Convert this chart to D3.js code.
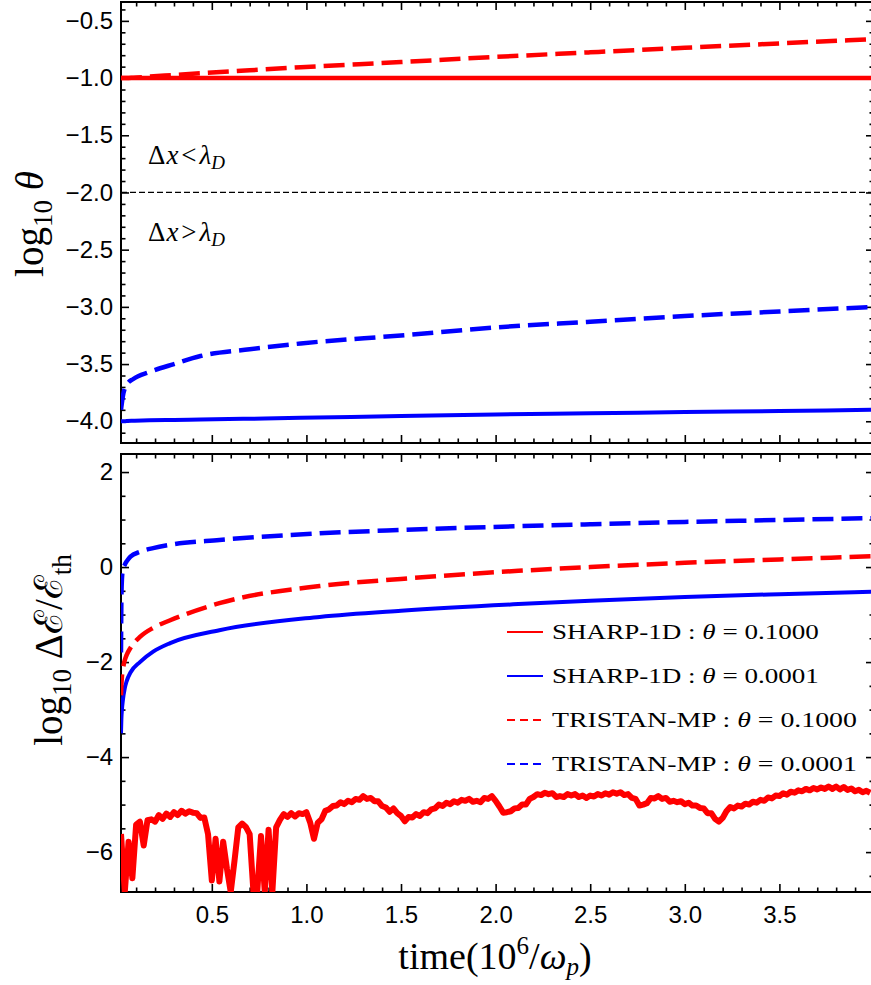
<!DOCTYPE html>
<html>
<head>
<meta charset="utf-8">
<script src="https://cdn.jsdelivr.net/npm/d3@7"></script>
<style>
  html, body { margin: 0; padding: 0; background: #fff; }
  svg { display: block; }
</style>
</head>
<body>
<svg id="chart" width="871" height="985"></svg>
<script>
// ---- data -------------------------------------------------------------
// time in units of 10^6 / omega_p
const thetaTime = [0.02, 0.03, 0.05, 0.085, 0.17, 0.3, 0.44, 0.7, 0.97, 1.5, 2.0, 2.5, 3.0, 3.5, 4.0];
// log10 theta, top panel
const thetaSharpHot   = [-1.0, -1.0, -1.0, -1.0, -1.0, -1.0, -1.0, -1.0, -1.0, -1.0, -1.0, -1.0, -1.0, -1.0, -1.0];
const thetaSharpCold  = [-4.0, -4.0, -3.998, -3.996, -3.992, -3.988, -3.985, -3.978, -3.97, -3.955, -3.94, -3.93, -3.92, -3.91, -3.90];
const thetaTristanHot = [-1.0, -1.0, -1.0, -0.997, -0.987, -0.973, -0.958, -0.932, -0.905, -0.86, -0.815, -0.775, -0.735, -0.697, -0.66];
const thetaTristanCold= [-3.9, -3.78, -3.68, -3.63, -3.57, -3.5, -3.43, -3.37, -3.32, -3.25, -3.18, -3.13, -3.08, -3.04, -3.0];

// log10 of energy error, bottom panel
const energyTime = [0.02, 0.022, 0.025, 0.03, 0.04, 0.05, 0.07, 0.12, 0.19, 0.28, 0.54, 1.07, 1.5, 2.12, 2.5, 3.0, 3.5, 4.0];
const energySharpCold   = [-3.5, -3.2, -3.0, -2.8, -2.55, -2.4, -2.22, -2.0, -1.78, -1.6, -1.33, -1.05, -0.92, -0.78, -0.71, -0.63, -0.57, -0.52];
const energyTristanHot  = [-2.7, -2.5, -2.3, -2.15, -1.96, -1.85, -1.7, -1.47, -1.28, -1.12, -0.76, -0.40, -0.25, -0.08, 0.0, 0.09, 0.16, 0.23];
const energyTristanCold = [-1.8, -0.7, -0.25, -0.05, 0.05, 0.12, 0.22, 0.32, 0.40, 0.47, 0.57, 0.71, 0.78, 0.86, 0.90, 0.95, 0.99, 1.03];
// SHARP-1D, theta = 0.1: sampled every 0.02 starting at t = 0.02
const noiseStart = 0.02, noiseStep = 0.02;
const energySharpHot = [
  -5.62,-6.84,-5.78,-6.55,-5.42,-5.36,-5.86,-5.33,-5.31,-5.36,
  -5.22,-5.30,-5.19,-5.26,-5.16,-5.22,-5.13,-5.19,-5.14,-5.17,
  -5.18,-5.28,-5.27,-5.62,-6.60,-5.72,-6.62,-5.78,-6.35,-6.84,
  -6.18,-5.48,-5.40,-5.47,-5.62,-6.84,-6.84,-5.66,-6.84,-5.53,
  -6.84,-5.48,-5.32,-5.20,-5.26,-5.18,-5.25,-5.18,-5.20,-5.16,
  -5.38,-5.72,-5.38,-5.31,-5.13,-5.10,-5.03,-5.02,-4.95,-4.99,
  -4.92,-4.95,-4.88,-4.90,-4.82,-4.88,-4.86,-4.93,-4.93,-5.03,
  -5.06,-5.15,-5.08,-5.18,-5.24,-5.35,-5.26,-5.27,-5.20,-5.24,
  -5.16,-5.18,-5.10,-5.08,-5.00,-5.03,-4.96,-4.99,-4.93,-4.96,
  -4.90,-4.92,-4.88,-4.94,-4.92,-4.95,-4.86,-4.88,-4.82,-4.92,
  -5.04,-5.17,-5.16,-5.14,-5.08,-5.07,-5.00,-5.00,-4.88,-4.84,
  -4.78,-4.80,-4.75,-4.78,-4.76,-4.84,-4.82,-4.84,-4.78,-4.81,
  -4.78,-4.84,-4.81,-4.86,-4.81,-4.83,-4.78,-4.81,-4.76,-4.79,
  -4.74,-4.77,-4.74,-4.80,-4.78,-4.86,-4.88,-5.02,-5.00,-4.97,
  -4.86,-4.87,-4.82,-4.88,-4.86,-4.94,-4.92,-4.95,-4.93,-4.99,
  -4.96,-5.02,-5.02,-5.07,-5.08,-5.18,-5.18,-5.30,-5.36,-5.28,
  -5.14,-5.05,-5.08,-5.02,-5.04,-4.98,-5.00,-4.94,-4.96,-4.90,
  -4.92,-4.85,-4.87,-4.81,-4.82,-4.76,-4.79,-4.73,-4.75,-4.70,
  -4.72,-4.67,-4.70,-4.65,-4.68,-4.64,-4.67,-4.62,-4.67,-4.62,
  -4.68,-4.63,-4.69,-4.66,-4.72,-4.69,-4.74,-4.71,-4.75
];

// tick values
const xTicks = [0.5, 1.0, 1.5, 2.0, 2.5, 3.0, 3.5];
const thetaTicks = [-4.0, -3.5, -3.0, -2.5, -2.0, -1.5, -1.0, -0.5];
const energyTicks = [-6, -4, -2, 0, 2];

const legendItems = [
  {code: "SHARP-1D",   theta: "0.1000", color: "#ff0000", dashed: false},
  {code: "SHARP-1D",   theta: "0.0001", color: "#0000ff", dashed: false},
  {code: "TRISTAN-MP", theta: "0.1000", color: "#ff0000", dashed: true},
  {code: "TRISTAN-MP", theta: "0.0001", color: "#0000ff", dashed: true}
];

// ---- layout -------------------------------------------------------------
const RED = "#ff0000", BLUE = "#0000ff";
const left = 121, right = 874;
const svg = d3.select("#chart");
svg.append("rect").attr("width", 871).attr("height", 985).attr("fill", "#fff");

const x = d3.scaleLinear().domain([0.02, 4.0]).range([left, right]);
const yTop = d3.scaleLinear().domain([-4.19, -0.335]).range([443, 2]);
const yBot = d3.scaleLinear().domain([-6.84, 2.38]).range([892, 454]);

const sansFont = "'Liberation Sans', Arial, Helvetica, sans-serif";
const serifFont = "'Liberation Serif', 'Times New Roman', serif";

const xMinor = d3.range(0.1, 4.0, 0.1).filter(v => Math.abs(v * 2 - Math.round(v * 2)) > 1e-6);

function drawFrame(y, yMajor, yMinor, yFmt, showX, clipId) {
  const g = svg.append("g");
  const [y0, y1] = y.range();
  const setFont = sel => sel.attr("font-size", 24).attr("font-family", sansFont);

  // left
  g.append("g").attr("transform", `translate(${left},0)`)
    .call(d3.axisLeft(y).tickValues(yMajor).tickSize(-8).tickPadding(8).tickFormat(yFmt))
    .call(setFont);
  g.append("g").attr("transform", `translate(${left},0)`)
    .call(d3.axisLeft(y).tickValues(yMinor).tickSize(-4.5).tickFormat(""));
  // right
  g.append("g").attr("transform", `translate(${right},0)`)
    .call(d3.axisRight(y).tickValues(yMajor).tickSize(-8).tickFormat(""));
  g.append("g").attr("transform", `translate(${right},0)`)
    .call(d3.axisRight(y).tickValues(yMinor).tickSize(-4.5).tickFormat(""));
  // bottom
  g.append("g").attr("transform", `translate(0,${y0})`)
    .call(d3.axisBottom(x).tickValues(xTicks).tickSize(-8).tickPadding(14)
      .tickFormat(showX ? d3.format(".1f") : ""))
    .call(setFont);
  g.append("g").attr("transform", `translate(0,${y0})`)
    .call(d3.axisBottom(x).tickValues(xMinor).tickSize(-4.5).tickFormat(""));
  // top
  g.append("g").attr("transform", `translate(0,${y1})`)
    .call(d3.axisTop(x).tickValues(xTicks).tickSize(-8).tickFormat(""));
  g.append("g").attr("transform", `translate(0,${y1})`)
    .call(d3.axisTop(x).tickValues(xMinor).tickSize(-4.5).tickFormat(""));

  g.selectAll(".domain").remove();
  g.selectAll(".tick line").attr("stroke", "#000").attr("stroke-width", 1.6);
  g.selectAll(".tick text").attr("fill", "#000");

  g.append("rect")
    .attr("x", left).attr("y", y1).attr("width", right - left).attr("height", y0 - y1)
    .attr("fill", "none").attr("stroke", "#000").attr("stroke-width", 2);

  svg.append("clipPath").attr("id", clipId)
    .append("rect").attr("x", left).attr("y", y1).attr("width", right - left).attr("height", y0 - y1);
}

function drawSeries(y, times, values, color, dashed, clipId, width, curve) {
  const pts = values.map((v, i) => ({t: times[i], v}));
  const line = d3.line().x(d => x(d.t)).y(d => y(d.v)).curve(curve || d3.curveMonotoneX);
  svg.append("path")
    .datum(pts)
    .attr("clip-path", `url(#${clipId})`)
    .attr("d", line)
    .attr("fill", "none")
    .attr("stroke", color)
    .attr("stroke-width", width)
    .attr("stroke-linejoin", "round")
    .attr("stroke-dasharray", dashed ? "21,8" : null);
}

// ---- top panel: temperature ---------------------------------------------
const thetaMinor = d3.range(-41, -3, 1).map(v => v / 10).filter(v => Math.abs(v * 2 - Math.round(v * 2)) > 1e-6);
drawFrame(yTop, thetaTicks, thetaMinor, d3.format(".1f"), false, "clipTop");

// Debye-length boundary
svg.append("line")
  .attr("x1", left).attr("x2", right)
  .attr("y1", yTop(-2)).attr("y2", yTop(-2))
  .attr("stroke", "#000").attr("stroke-width", 1.3).attr("stroke-dasharray", "6,3");

drawSeries(yTop, thetaTime, thetaSharpHot, RED, false, "clipTop", 4.5);
drawSeries(yTop, thetaTime, thetaTristanHot, RED, true, "clipTop", 4.5);
drawSeries(yTop, thetaTime, thetaSharpCold, BLUE, false, "clipTop", 4);
drawSeries(yTop, thetaTime, thetaTristanCold, BLUE, true, "clipTop", 4.5);

function regimeLabel(yPos, rel) {
  const t = svg.append("text").attr("x", 148).attr("y", yPos)
    .attr("font-family", serifFont).attr("font-size", 27).attr("fill", "#000");
  t.append("tspan").text("Δ");
  t.append("tspan").attr("font-style", "italic").attr("dx", 1).text("x");
  t.append("tspan").attr("dx", 3).text(rel);
  t.append("tspan").attr("font-style", "italic").attr("dx", 3).text("λ");
  t.append("tspan").attr("font-style", "italic").attr("font-size", 19).attr("dy", 5).text("D");
}
regimeLabel(164, "<");
regimeLabel(241, ">");

// y label, top
{
  const t = svg.append("text")
    .attr("transform", `translate(43,224) rotate(-90)`)
    .attr("text-anchor", "middle")
    .attr("font-family", serifFont).attr("font-size", 39).attr("fill", "#000");
  t.append("tspan").text("log");
  t.append("tspan").attr("font-size", 27).attr("dy", 9).text("10");
  t.append("tspan").attr("dy", -9).text(" ");
  t.append("tspan").attr("font-style", "italic").text("θ");
}

// ---- bottom panel: energy error -----------------------------------------
const energyMinor = d3.range(-13, 5, 1).map(v => v / 2).filter(v => v % 2 !== 0);
drawFrame(yBot, energyTicks, energyMinor, d3.format("d"), true, "clipBot");

const noiseTime = energySharpHot.map((_, i) => noiseStart + noiseStep * i);
drawSeries(yBot, noiseTime, energySharpHot, RED, false, "clipBot", 6, d3.curveLinear);
drawSeries(yBot, energyTime, energySharpCold, BLUE, false, "clipBot", 4);
drawSeries(yBot, energyTime, energyTristanHot, RED, true, "clipBot", 4.5);
drawSeries(yBot, energyTime, energyTristanCold, BLUE, true, "clipBot", 4.5);

// legend: serif text widened horizontally to the wide math-font look
const legend = svg.append("g");
legendItems.forEach((d, i) => {
  const cy = 632 + i * 44;
  legend.append("line")
    .attr("x1", 507).attr("x2", 543).attr("y1", cy).attr("y2", cy)
    .attr("stroke", d.color).attr("stroke-width", 2)
    .attr("stroke-dasharray", d.dashed ? "8,5" : null);
  const holder = legend.append("g");
  const t = holder.append("text").attr("x", 0).attr("y", 0)
    .attr("font-family", serifFont).attr("font-size", 22).attr("fill", "#000");
  t.append("tspan").text(d.code + " : ");
  t.append("tspan").attr("font-style", "italic").text("θ");
  t.append("tspan").text(" = " + d.theta);
  const target = d.dashed ? 305 : 267;
  const natural = t.node().getComputedTextLength() || target;
  holder.attr("transform", `translate(552,${cy + 7}) scale(${target / natural},1)`);
});

// y label, bottom
{
  const t = svg.append("text")
    .attr("transform", `translate(62,650) rotate(-90)`)
    .attr("text-anchor", "middle")
    .attr("font-family", serifFont).attr("font-size", 39).attr("fill", "#000");
  t.append("tspan").text("log");
  t.append("tspan").attr("font-size", 27).attr("dy", 9).text("10");
  t.append("tspan").attr("dy", -9).text(" Δℰ/ℰ");
  t.append("tspan").attr("font-size", 27).attr("dy", 9).text("th");
}

// x label
{
  const t = svg.append("text")
    .attr("x", 495).attr("y", 969)
    .attr("text-anchor", "middle")
    .attr("font-family", serifFont).attr("font-size", 38).attr("fill", "#000");
  t.append("tspan").text("time(10");
  t.append("tspan").attr("font-size", 25).attr("dy", -15).text("6");
  t.append("tspan").attr("dy", 15).text("/");
  t.append("tspan").attr("font-style", "italic").text("ω");
  t.append("tspan").attr("font-style", "italic").attr("font-size", 25).attr("dy", 6).text("p");
  t.append("tspan").attr("dy", -6).text(")");
}
</script>
</body>
</html>
